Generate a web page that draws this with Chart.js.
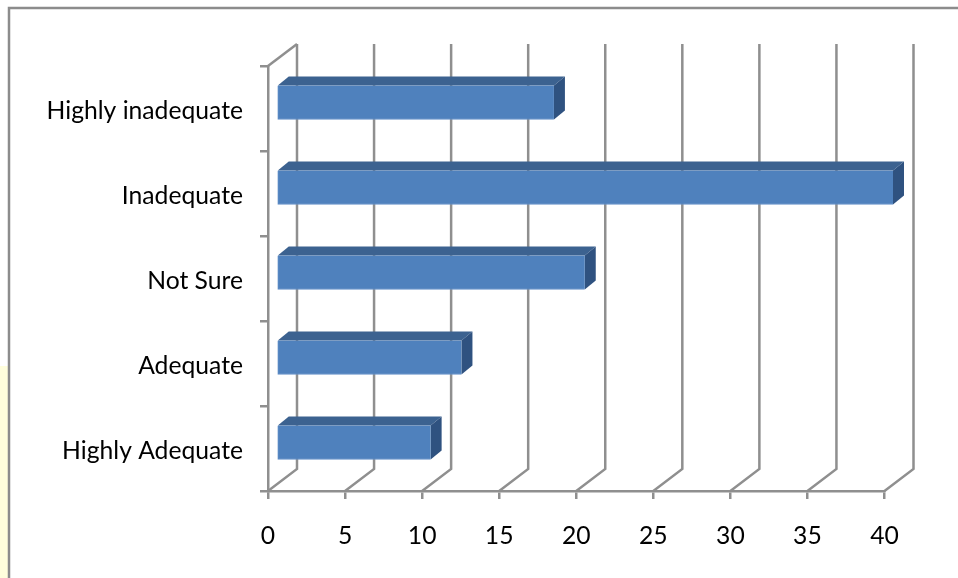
<!DOCTYPE html>
<html>
<head>
<meta charset="utf-8">
<style>
  html, body { margin: 0; padding: 0; background: #fff; }
  #wrap { position: relative; width: 958px; height: 578px; overflow: hidden; }
  canvas { display: block; }
</style>
<script src="https://cdn.jsdelivr.net/npm/chart.js@4/dist/chart.umd.min.js"></script>
</head>
<body>
<div id="wrap"><canvas id="chart" width="958" height="578"></canvas></div>
<script>
const categories = ["Highly inadequate", "Inadequate", "Not Sure", "Adequate", "Highly Adequate"];
const values = [18, 40, 20, 12, 10];
const valueTicks = [0, 5, 10, 15, 20, 25, 30, 35, 40];

const GRID = "#8f8f8f";
const FRONT = "#4f81bd";
const TOP_FACE = "#3c6290";
const SIDE_FACE = "#2f5280";
const WALL_DX = 29, WALL_DY = -22;    // oblique offset of the back wall
const BAR_DX = 8.5, BAR_DY = -6;      // shift of the bars into the floor
const DEPTH_DX = 11, DEPTH_DY = -9;   // depth of each bar

function stroke(ctx, pts) {
  ctx.beginPath();
  pts.forEach((p, i) => i ? ctx.lineTo(p[0], p[1]) : ctx.moveTo(p[0], p[1]));
  ctx.stroke();
}
function fill(ctx, pts, color) {
  ctx.fillStyle = color;
  ctx.beginPath();
  pts.forEach((p, i) => i ? ctx.lineTo(p[0], p[1]) : ctx.moveTo(p[0], p[1]));
  ctx.closePath();
  ctx.fill();
}

// Page frame and the pale strip to its left
const framePlugin = {
  id: "frame",
  beforeDraw(chart) {
    const ctx = chart.ctx;
    ctx.save();
    ctx.fillStyle = "#fffedc";
    ctx.fillRect(0, 366, 8, 212);
    ctx.strokeStyle = "#8c8c8c";
    ctx.lineWidth = 2.5;
    stroke(ctx, [[9, 578], [9, 8], [958, 8]]);
    ctx.restore();
  }
};

// Oblique floor lines and back wall gridlines, from the value scale
const wallPlugin = {
  id: "walls",
  beforeDatasetsDraw(chart) {
    const ctx = chart.ctx, x = chart.scales.x, a = chart.chartArea;
    ctx.save();
    ctx.strokeStyle = GRID;
    ctx.lineWidth = 2.5;
    valueTicks.forEach(v => {
      const px = x.getPixelForValue(v);
      stroke(ctx, [[px, a.bottom], [px + WALL_DX, a.bottom + WALL_DY], [px + WALL_DX, a.top + WALL_DY]]);
    });
    const x0 = x.getPixelForValue(0);
    stroke(ctx, [[x0, a.top], [x0 + WALL_DX, a.top + WALL_DY]]);
    ctx.restore();
  }
};

// Bars get a top and side face, and sit shifted back from the front axis
const depthPlugin = {
  id: "barDepth",
  beforeDatasetDraw(chart, args) {
    const ctx = chart.ctx;
    chart.getDatasetMeta(args.index).data.forEach(bar => {
      const p = bar.getProps(["x", "y", "base", "height"], true);
      const l = p.base + BAR_DX, r = p.x + BAR_DX;
      const t = p.y - p.height / 2 + BAR_DY, b = p.y + p.height / 2 + BAR_DY;
      fill(ctx, [[l, t], [l + DEPTH_DX, t + DEPTH_DY], [r + DEPTH_DX, t + DEPTH_DY], [r, t]], TOP_FACE);
      fill(ctx, [[r, t], [r + DEPTH_DX, t + DEPTH_DY], [r + DEPTH_DX, b + DEPTH_DY], [r, b]], SIDE_FACE);
    });
    ctx.save();
    ctx.translate(BAR_DX, BAR_DY);
  },
  afterDatasetDraw(chart) {
    chart.ctx.restore();
  }
};

const labelFont = { family: "Lato", size: 24.7 };

new Chart(document.getElementById("chart"), {
  type: "bar",
  data: {
    labels: categories,
    datasets: [{
      data: values,
      backgroundColor: FRONT,
      borderColor: "#6390c8",
      borderWidth: { left: 1, bottom: 1, top: 0, right: 0 },
      borderSkipped: false,
      barThickness: 34
    }]
  },
  options: {
    indexAxis: "y",
    responsive: false,
    animation: false,
    layout: { padding: { left: 0, top: 66, right: 958 - 884.5, bottom: 0 } },
    plugins: { legend: { display: false }, tooltip: { enabled: false } },
    scales: {
      x: {
        type: "linear",
        min: 0,
        max: 40,
        afterFit(s) { s.height = 578 - 491; },
        afterBuildTicks(s) { s.ticks = valueTicks.map(v => ({ value: v })); },
        border: { color: GRID, width: 2.5 },
        grid: { drawOnChartArea: false, color: GRID, lineWidth: 2.5, tickLength: 8, tickWidth: 2.5 },
        ticks: { color: "#000", font: labelFont, padding: 22, maxRotation: 0 }
      },
      y: {
        type: "category",
        afterFit(s) { s.width = 268; },
        border: { color: GRID, width: 2.5 },
        grid: { drawOnChartArea: false, color: GRID, lineWidth: 2.5, tickLength: 8, tickWidth: 2.5 },
        ticks: { color: "#000", font: labelFont, padding: 17, labelOffset: 3 }
      }
    }
  },
  plugins: [framePlugin, wallPlugin, depthPlugin]
});
</script>
</body>
</html>
